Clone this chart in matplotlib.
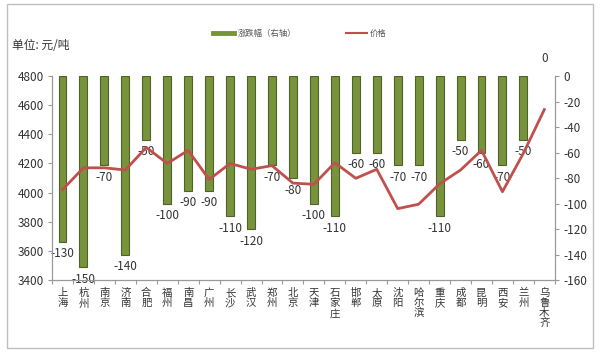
import matplotlib
matplotlib.use("Agg")
import matplotlib.pyplot as plt
from matplotlib.lines import Line2D
from matplotlib.patches import Rectangle

plt.rcParams['font.family'] = ['Noto Sans CJK SC', 'DejaVu Sans']

cities = ['上海', '杭州', '南京', '济南', '合肥', '福州', '南昌', '广州', '长沙', '武汉',
          '郑州', '北京', '天津', '石家庄', '邯郸', '太原', '沈阳', '哈尔滨', '重庆', '成都',
          '昆明', '西安', '兰州', '乌鲁木齐']
change = [-130, -150, -70, -140, -50, -100, -90, -90, -110, -120,
          -70, -80, -100, -110, -60, -60, -70, -70, -110, -50,
          -60, -70, -50, 0]
price = [4020, 4170, 4170, 4155, 4310, 4200, 4290, 4090, 4200, 4160,
         4185, 4065, 4057, 4205, 4098, 4160, 3890, 3920, 4060, 4155,
         4290, 4006, 4270, 4570]
left_ticks = [3400, 3600, 3800, 4000, 4200, 4400, 4600, 4800]
right_ticks = [0, -20, -40, -60, -80, -100, -120, -140, -160]

fig = plt.figure(figsize=(6, 3.52), dpi=100)
fig.patches.append(Rectangle((0.012, 0.012), 0.976, 0.976, transform=fig.transFigure,
                             fill=False, edgecolor='#bfbfbf', lw=1))

ax = fig.add_axes([0.0867, 0.2045, 0.838, 0.5795])
ax2 = ax.twinx()
x = list(range(len(cities)))

# bars on the right axis
ax.bar(x, change, width=0.38, color='#77933C', edgecolor='#4F6228',
       linewidth=[0.8 if v else 0 for v in change], zorder=2)
ax.set_ylim(-160, 0)
ax.set_xlim(-0.5, len(cities) - 0.5)
ax.yaxis.set_label_position('right')
ax.yaxis.tick_right()
ax.set_yticks(right_ticks)
ax.set_yticklabels([str(t) for t in right_ticks], fontsize=8.5, color='#333333')
for xi, v in zip(x, change):
    if v == 0:
        ax.annotate(str(v), (xi, v), xytext=(0, 8), textcoords='offset points',
                    ha='center', va='bottom', fontsize=8.5, color='#333333', annotation_clip=False)
    else:
        ax.annotate(str(v), (xi, v), xytext=(0, -4), textcoords='offset points',
                    ha='center', va='top', fontsize=8.5, color='#333333', annotation_clip=False)

ax.set_xticks([i - 0.5 for i in range(len(cities) + 1)])
ax.set_xticklabels([])
ax.tick_params(axis='x', direction='out', length=3, color='#999999')
ax.tick_params(axis='y', direction='out', length=3, color='#999999', pad=3)
for i, c in enumerate(cities):
    ax.text(i, -0.04, '\n'.join(c), transform=ax.get_xaxis_transform(), ha='center', va='top',
            fontsize=7.5, linespacing=1.0, color='#333333')

# price line on the left axis
ax2.plot(x, price, color='#C0504D', lw=2, zorder=3)
ax2.set_ylim(3400, 4800)
ax2.yaxis.set_label_position('left')
ax2.yaxis.tick_left()
ax2.set_yticks(left_ticks)
ax2.set_yticklabels([str(t) for t in left_ticks], fontsize=8.5, color='#333333')
ax2.tick_params(axis='y', direction='out', length=3, color='#999999', pad=3)

for a in (ax, ax2):
    a.spines['top'].set_visible(False)
    for s in ['left', 'right', 'bottom']:
        a.spines[s].set_color('#999999')

fig.text(0.02, 0.87, '单位: 元/吨', fontsize=8.5, ha='left', va='center', color='#333333')

handles = [Line2D([0], [0], color='#77933C', lw=3.5),
           Line2D([0], [0], color='#C0504D', lw=1.5)]
fig.legend(handles, ['涨跌幅（右轴）', '价格'], loc='center', bbox_to_anchor=(0.5, 0.905),
           ncol=2, frameon=False, fontsize=6, handlelength=2.5, columnspacing=6,
           handletextpad=0.4, labelcolor='#555555')

fig.savefig('out.png', dpi=100)
